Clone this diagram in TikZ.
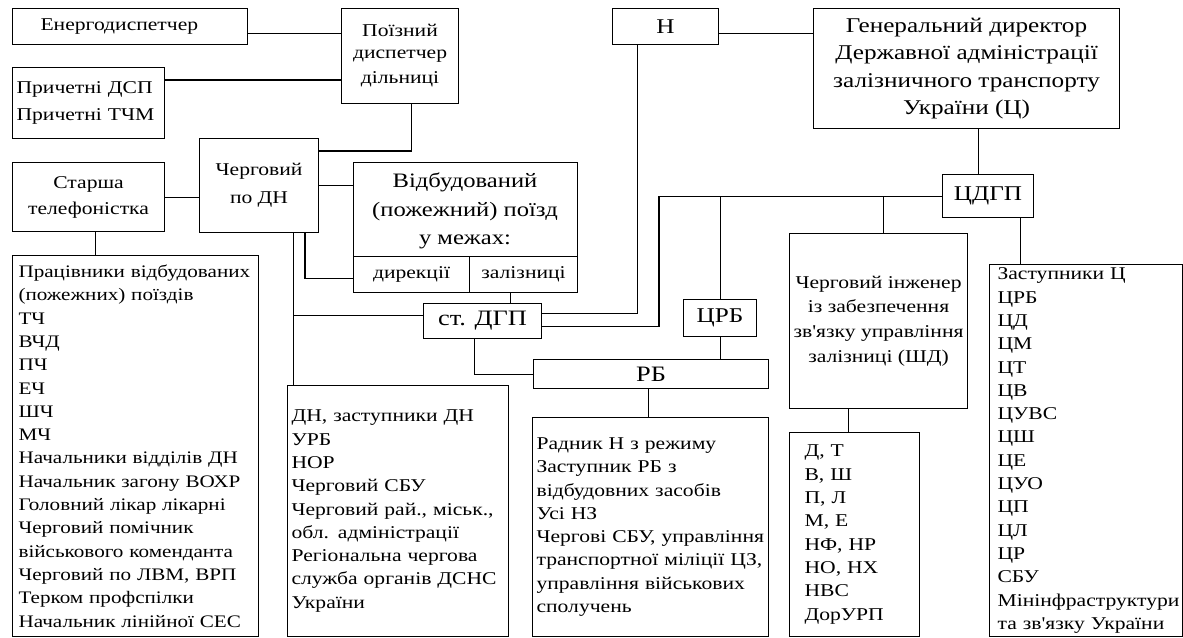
\documentclass[tikz,border=0pt]{standalone}
\usepackage{fontspec}
\setmainfont{Liberation Serif}[FakeStretch=1.2, Ligatures=TeXOff]
\usetikzlibrary{calc}
\newcommand{\bigf}{\fontsize{21}{27.3}\selectfont}
\newcommand{\vbf}{\fontsize{20.5}{28.5}\selectfont}
\newcommand{\midf}{\fontsize{18}{26}\selectfont}
\newcommand{\listf}{\fontsize{18}{23.3}\selectfont}
\tikzset{
  box/.style={draw, line width=1.1pt, rectangle, inner sep=0pt, anchor=north west, align=center},
  plain/.style={inner sep=0pt, align=center},
  con/.style={line width=1.1pt},
}
\begin{document}
\begin{tikzpicture}[x=1pt,y=-1pt]
\useasboundingbox (0,0) rectangle (1183,637);
% boxes
\node[box, minimum width=235pt, minimum height=36pt, text width=179pt, inner xsep=28pt, align=left, font=\midf] (energ) at (12,8) {Енергодиспетчер};
\node[box, minimum width=117pt, minimum height=95pt, font=\fontsize{18}{25}\selectfont] (poizn) at (341,8) {\raisebox{-3pt}{Поїзний}\\диспетчер\\дільниці};
\node[box, minimum width=152pt, minimum height=71pt, text width=144pt, inner xsep=4pt, align=left, font=\fontsize{18}{27}\selectfont] (prych) at (12,67) {Причетні ДСП\\Причетні ТЧМ};
\node[box, minimum width=152pt, minimum height=69pt, font=\midf] (starsha) at (12,162) {Старша\\телефоністка};
\node[box, minimum width=119pt, minimum height=94pt, font=\fontsize{18}{28}\selectfont] (cherg) at (199,138) {Черговий\\по ДН};
\node[box, minimum width=224pt, minimum height=130pt] (vidb) at (353,162) {};
\node[plain, font=\vbf] (vidbt) at (465,211) {Відбудований\\(пожежний) поїзд\\у межах:};
\node[box, minimum width=116pt, minimum height=36pt, font=\midf] (dir) at (353,256) {дирекції};
\node[box, minimum width=108pt, minimum height=36pt, font=\midf] (zal) at (469,256) {залізниці};
\node[box, minimum width=118pt, minimum height=35pt, font=\fontsize{22}{26}\selectfont] (stdgp) at (423,303) {ст. ДГП};
\node[box, minimum width=235pt, minimum height=29pt, font=\fontsize{22}{26}\selectfont] (rb) at (533,359) {РБ};
\node[box, minimum width=73pt, minimum height=37pt, font=\bigf] (crb) at (683,299) {ЦРБ};
\node[box, minimum width=106pt, minimum height=36pt, font=\bigf] (N) at (612,8) {Н};
\node[box, minimum width=306pt, minimum height=120pt, font=\bigf] (gen) at (813,8) {Генеральний директор\\Державної адміністрації\\залізничного транспорту\\України (Ц)};
\node[box, minimum width=91pt, minimum height=43pt, font=\bigf] (cdgp) at (942,174) {ЦДГП};
\node[box, minimum width=178pt, minimum height=175pt, font=\fontsize{18}{24.7}\selectfont] (cheng) at (789,233) {Черговий інженер\\із забезпечення\\зв'язку управління\\залізниці (ШД)};
\node[box, minimum width=130pt, minimum height=204pt, text width=100pt, inner xsep=15pt, align=left, font=\listf] (dt) at (789,432) {Д, Т\\В, Ш\\П, Л\\М, Е\\НФ, НР\\НО, НХ\\НВС\\ДорУРП};
\node[box, minimum width=193pt, minimum height=372pt, text width=177pt, inner xsep=8pt, align=left, font=\listf] (zast) at (989,264) {Заступники Ц\\ЦРБ\\ЦД\\ЦМ\\ЦТ\\ЦВ\\ЦУВС\\ЦШ\\ЦЕ\\ЦУО\\ЦП\\ЦЛ\\ЦР\\СБУ\\Мінінфраструктури\\та зв'язку України};
\node[box, minimum width=246pt, minimum height=381pt, text width=234pt, inner xsep=6pt, align=left, font=\fontsize{17.6}{23.3}\selectfont] (prac) at (12,255) {\mbox{Працівники відбудованих}\\(пожежних) поїздів\\ТЧ\\ВЧД\\ПЧ\\ЕЧ\\ШЧ\\МЧ\\Начальники відділів ДН\\Начальник загону ВОХР\\Головний лікар лікарні\\Черговий помічник\\\mbox{військового коменданта}\\Черговий по ЛВМ, ВРП\\Терком профспілки\\Начальник лінійної СЕС};
\node[box, minimum width=221pt, minimum height=251pt, text width=213pt, inner xsep=4pt, align=left, font=\listf] (dnlist) at (287,385) {ДН, заступники ДН\\УРБ\\НОР\\Черговий СБУ\\Черговий рай., міськ.,\\обл. адміністрації\\Регіональна чергова\\служба органів ДСНС\\України};
\node[box, minimum width=236pt, minimum height=219pt, text width=228pt, inner xsep=4pt, align=left, font=\listf] (rblist) at (532,417) {Радник Н з режиму\\Заступник РБ з\\відбудовних засобів\\Усі НЗ\\Чергові СБУ, управління\\транспортної міліції ЦЗ,\\управління військових\\сполучень};
% named coordinates
\coordinate (cdn) at ([xshift=94.5pt]cherg.south west);
\coordinate (cdr) at ([xshift=106pt]cherg.south west);
\coordinate (bus) at ([xshift=-283pt]cdgp.west);
% connectors
\draw[con] ([yshift=-7pt]energ.east) -- ([yshift=-7pt]energ.east -| poizn.west);
\draw[con] ([yshift=-13pt]prych.north east) -- ([yshift=-13pt]prych.north east -| poizn.west);
\draw[con] ([xshift=11.5pt]poizn.south) |- ([yshift=-13pt]cherg.north east);
\draw[con] (starsha.east) -- (starsha.east -| cherg.west);
\draw[con] ([xshift=7pt]starsha.south) -- ([xshift=7pt]starsha.south |- prac.north);
\draw[con] (cherg.east) -- (cherg.east -| vidb.west);
\draw[con] (cdr) |- ([yshift=-4pt]dir.west);
\draw[con] (cdn) -- (cdn |- dnlist.north);
\draw[con] ([yshift=5.5pt]stdgp.west) -- ([yshift=5.5pt]stdgp.west -| cdn);
\draw[con] ([xshift=-13pt]zal.south) -- ([xshift=-13pt]zal.south |- stdgp.north);
\draw[con] ([xshift=-8pt]stdgp.south) |- (rb.west);
\draw[con] ([yshift=7.5pt]stdgp.east) -| ([xshift=-28pt]N.south);
\draw[con] ([yshift=-5.5pt]stdgp.east) -| (bus) -- (cdgp.west);
\draw[con] (crb.north) -- (crb.north |- cdgp.west);
\draw[con] (crb.south) -- (crb.south |- rb.north);
\draw[con] ([xshift=5pt]cheng.north) -- ([xshift=5pt]cheng.north |- cdgp.west);
\draw[con] ([xshift=12pt]gen.south) -- ([xshift=12pt]gen.south |- cdgp.north);
\draw[con] ([xshift=32.5pt]cdgp.south) -- ([xshift=32.5pt]cdgp.south |- zast.north);
\draw[con] ([yshift=-7pt]N.east) -- ([yshift=-7pt]N.east -| gen.west);
\draw[con] ([xshift=-2.5pt]rb.south) -- ([xshift=-2.5pt]rb.south |- rblist.north);
\draw[con] ([xshift=-30pt]cheng.south) -- ([xshift=-30pt]cheng.south |- dt.north);
\end{tikzpicture}
\end{document}
